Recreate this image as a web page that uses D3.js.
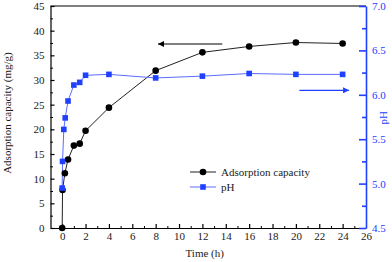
<!DOCTYPE html>
<html>
<head>
<meta charset="utf-8">
<script src="https://cdn.jsdelivr.net/npm/d3@7"></script>
<style>
  body { margin: 0; background: #fff; }
  svg text { font-family: "Times New Roman", "Liberation Serif", serif; }
</style>
</head>
<body>
<div id="chart"></div>
<script>
// datos
var timeCap = [0, 0.03, 0.23, 0.5, 1, 1.5, 2, 4, 8, 12, 16, 20, 24];
var capacity = [0, 7.7, 11.1, 13.9, 16.7, 17.1, 19.7, 24.4, 31.9, 35.6, 36.8, 37.6, 37.4];
var timePH = [0, 0.03, 0.14, 0.26, 0.5, 1, 1.5, 2, 4, 8, 12, 16, 20, 24];
var ph = [4.95, 5.25, 5.61, 5.74, 5.93, 6.11, 6.14, 6.22, 6.23, 6.19, 6.21, 6.24, 6.23, 6.23];
var xTicks = [0, 2, 4, 6, 8, 10, 12, 14, 16, 18, 20, 22, 24, 26];
var yTicks = [0, 5, 10, 15, 20, 25, 30, 35, 40, 45];
var phTicks = [4.5, 5.0, 5.5, 6.0, 6.5, 7.0];
var legendLabels = ["Adsorption capacity", "pH"];

var W = 392, H = 262;
var margin = {top: 6, right: 26, bottom: 34, left: 50.5};
var width = W - margin.left - margin.right;
var height = H - margin.top - margin.bottom;
var blue = "#2040ff";
var serif = "'Times New Roman', 'Liberation Serif', serif";

var svg = d3.select("#chart").append("svg")
  .attr("width", W).attr("height", H)
  .attr("font-family", serif)
  .append("g")
  .attr("transform", "translate(" + margin.left + "," + margin.top + ")");

// escalas
var x = d3.scaleLinear().domain([-1, 26]).range([0, width]);
var y = d3.scaleLinear().domain([0, 45]).range([height, 0]);
var y2 = d3.scaleLinear().domain([4.5, 7]).range([height, 0]);

// marco superior
svg.append("line")
  .attr("x1", 0).attr("x2", width).attr("y1", 0).attr("y2", 0)
  .attr("stroke", "#000").attr("stroke-width", 1.2);

// eje x
var xAxis = svg.append("g")
  .attr("transform", "translate(0," + height + ")")
  .call(d3.axisBottom(x).tickValues(xTicks).tickSizeInner(-4).tickSizeOuter(0).tickPadding(4));
svg.append("g")
  .attr("transform", "translate(0," + height + ")")
  .call(d3.axisBottom(x).tickValues(d3.range(1, 26, 2)).tickSize(-2).tickFormat(""))
  .select(".domain").remove();

// eje y izquierdo
var yAxis = svg.append("g")
  .call(d3.axisLeft(y).tickValues(yTicks).tickSizeInner(-4).tickSizeOuter(0).tickPadding(6));
svg.append("g")
  .call(d3.axisLeft(y).tickValues(d3.range(2.5, 45, 5)).tickSize(-2.5).tickFormat(""))
  .select(".domain").remove();

[xAxis, yAxis].forEach(function(a) {
  a.attr("font-family", serif).attr("font-size", 11);
  a.select(".domain").attr("stroke", "#000").attr("stroke-width", 1.2);
  a.selectAll(".tick line").attr("stroke-width", 1.2);
  a.selectAll("text").attr("fill", "#1a1a1a");
});
xAxis.selectAll(".tick").filter(function(d) { return d == 26; }).select("line").remove();

// eje y derecho (pH)
var y2Axis = svg.append("g")
  .attr("class", "right")
  .attr("transform", "translate(" + width + ",0)")
  .call(d3.axisRight(y2).tickValues(phTicks).tickFormat(d3.format(".1f"))
    .tickSizeInner(-7).tickSizeOuter(0).tickPadding(6));
var y2Minor = svg.append("g")
  .attr("class", "right")
  .attr("transform", "translate(" + width + ",0)")
  .call(d3.axisRight(y2).tickValues(d3.range(4.75, 7, 0.5)).tickSize(-4).tickFormat(""));
y2Minor.select(".domain").remove();
svg.selectAll("g.right").selectAll("path, line").attr("stroke", blue).attr("stroke-width", 1.6);
y2Axis.attr("font-family", serif).attr("font-size", 11);
y2Axis.selectAll("text").attr("fill", blue);

// titulos
svg.append("text")
  .attr("x", x(12.2)).attr("y", height + 29)
  .attr("text-anchor", "middle").style("font-size", "11px")
  .attr("fill", "#1a1a1a")
  .text("Time (h)");

svg.append("text")
  .attr("transform", "rotate(-90)")
  .attr("x", -(y(23.3))).attr("y", -39.5)
  .attr("text-anchor", "middle").style("font-size", "11px")
  .attr("fill", "#1a1a1a")
  .text("Adsorption capacity (mg/g)");

svg.append("text")
  .attr("transform", "rotate(-90)")
  .attr("x", -(y2(5.74))).attr("y", width + 21)
  .attr("text-anchor", "middle").style("font-size", "11px")
  .attr("fill", blue)
  .text("pH");

// lineas
var capData = timeCap.map(function(t, i) { return {t: t, v: capacity[i]}; });
var phData = timePH.map(function(t, i) { return {t: t, v: ph[i]}; });

svg.append("path").datum(capData)
  .attr("fill", "none").attr("stroke", "#222").attr("stroke-width", 1)
  .attr("d", d3.line().x(function(d) { return x(d.t); }).y(function(d) { return y(d.v); }));

svg.append("path").datum(phData)
  .attr("fill", "none").attr("stroke", "#5a6cff").attr("stroke-width", 1)
  .attr("d", d3.line().x(function(d) { return x(d.t); }).y(function(d) { return y2(d.v); }));

svg.selectAll("circle.cap").data(capData).enter().append("circle")
  .attr("class", "cap")
  .attr("cx", function(d) { return x(d.t); })
  .attr("cy", function(d) { return y(d.v); })
  .attr("r", 3.3).attr("fill", "#000");

svg.selectAll("rect.ph").data(phData).enter().append("rect")
  .attr("class", "ph")
  .attr("x", function(d) { return x(d.t) - 2.8; })
  .attr("y", function(d) { return y2(d.v) - 2.8; })
  .attr("width", 5.6).attr("height", 5.6)
  .attr("fill", blue);

// flechas
var defs = svg.append("defs");
defs.append("marker").attr("id", "headK")
  .attr("viewBox", "0 0 10 10").attr("refX", 10).attr("refY", 5)
  .attr("markerWidth", 13).attr("markerHeight", 6).attr("markerUnits", "userSpaceOnUse")
  .attr("orient", "auto")
  .append("path").attr("d", "M0,0L10,5L0,10Z").attr("fill", "#000");
defs.append("marker").attr("id", "headB")
  .attr("viewBox", "0 0 10 10").attr("refX", 10).attr("refY", 5)
  .attr("markerWidth", 13).attr("markerHeight", 6).attr("markerUnits", "userSpaceOnUse")
  .attr("orient", "auto")
  .append("path").attr("d", "M0,0L10,5L0,10Z").attr("fill", blue);

svg.append("line")
  .attr("x1", x(13.7)).attr("x2", x(8.2))
  .attr("y1", y(37.3)).attr("y2", y(37.3))
  .attr("stroke", "#555").attr("stroke-width", 1.5)
  .attr("marker-end", "url(#headK)");

svg.append("line")
  .attr("x1", x(20.3)).attr("x2", x(24.55))
  .attr("y1", y2(6.05)).attr("y2", y2(6.05))
  .attr("stroke", blue).attr("stroke-width", 1.3)
  .attr("marker-end", "url(#headB)");

// leyenda
var leg = svg.append("g").attr("transform", "translate(" + (190 - margin.left) + "," + (172 - margin.top) + ")");
legendLabels.forEach(function(label, i) {
  var g = leg.append("g").attr("transform", "translate(0," + (i * 15) + ")");
  g.append("line").attr("x1", 0).attr("x2", 26).attr("y1", 0).attr("y2", 0)
    .attr("stroke", i == 0 ? "#222" : "#5a6cff").attr("stroke-width", 1);
  if (i == 0) {
    g.append("circle").attr("cx", 13).attr("cy", 0).attr("r", 3.3).attr("fill", "#000");
  } else {
    g.append("rect").attr("x", 10.2).attr("y", -2.8).attr("width", 5.6).attr("height", 5.6).attr("fill", blue);
  }
  g.append("text").attr("x", 31).attr("y", 0).attr("dy", "0.35em")
    .style("font-size", "11px").attr("fill", "#1a1a1a").text(label);
});
</script>
</body>
</html>
